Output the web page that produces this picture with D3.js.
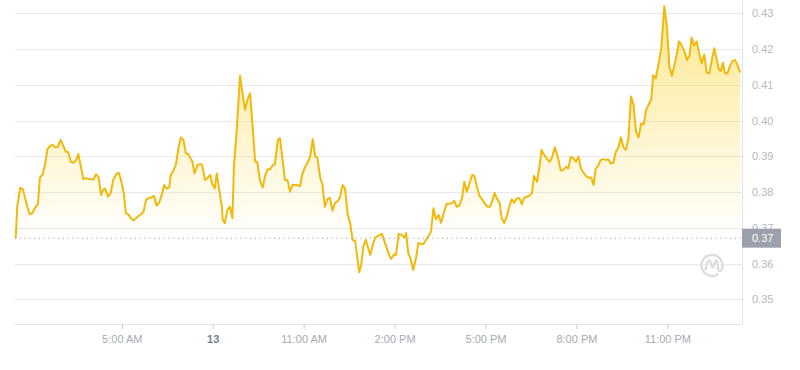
<!DOCTYPE html>
<html lang="en">

<head>
    <meta charset="UTF-8">
    <title>Price chart</title>
    <style>
        body {
            margin: 0;
            background: #fff;
            font-family: "Liberation Sans", Arial, sans-serif;
        }

        .x-axis text {
            font-size: 11px;
            fill: #a6aab2;
        }

        .x-axis text.day {
            fill: #7c8089;
            font-weight: bold;
        }

        .y-axis text {
            font-size: 11px;
            fill: #b5b9c1;
        }
    </style>
</head>

<body>
    <svg id="chart"></svg>
</body>
<script src="https://d3js.org/d3.v7.min.js"></script>
<script>
    // 5 minute candles, minutes counted from the first one
    const startTime = new Date(Date.UTC(2024, 2, 12, 1, 30));

    const minutes = [
        0, 3, 9, 14, 18, 23, 28, 33, 37, 44,
        48, 53, 58, 63, 68, 73, 78, 83, 89, 94,
        99, 104, 109, 114, 119, 124, 129, 134, 139, 145,
        150, 154, 159, 164, 169, 173, 177, 183, 188, 193,
        199, 204, 208, 214, 218, 224, 228, 233, 238, 243,
        248, 253, 258, 263, 269, 274, 279, 284, 289, 294,
        298, 304, 307, 312, 317, 322, 327, 332, 337, 342,
        347, 350, 354, 360, 365, 369, 375, 379, 385, 389,
        394, 398, 403, 408, 410, 414, 419, 424, 429, 432,
        438, 444, 449, 454, 459, 464, 468, 474, 478, 484,
        489, 494, 499, 504, 509, 513, 519, 523, 529, 533,
        538, 543, 548, 553, 558, 563, 567, 573, 577, 583,
        588, 593, 597, 603, 607, 612, 617, 622, 627, 632,
        637, 642, 647, 652, 657, 662, 667, 672, 676, 680,
        684, 688, 693, 697, 702, 706, 711, 718, 725, 731,
        738, 743, 749, 753, 758, 764, 769, 773, 777, 782,
        787, 793, 797, 802, 807, 812, 817, 822, 827, 832,
        837, 842, 848, 853, 859, 863, 868, 873, 878, 884,
        888, 893, 898, 904, 908, 913, 918, 924, 929, 934,
        939, 944, 948, 952, 958, 962, 967, 972, 977, 982,
        987, 992, 997, 1002, 1006, 1012, 1016, 1022, 1026, 1032,
        1037, 1041, 1046, 1051, 1057, 1061, 1067, 1072, 1079, 1084,
        1090, 1094, 1099, 1104, 1109, 1114, 1119, 1124, 1129, 1134,
        1139, 1144, 1148, 1154, 1158, 1163, 1169, 1173, 1178, 1183,
        1188, 1193, 1198, 1203, 1208, 1213, 1218, 1223, 1228, 1233,
        1238, 1243, 1248, 1253, 1258, 1262, 1267, 1272, 1278, 1284,
        1289, 1294, 1299, 1304, 1309, 1313, 1317, 1323, 1329, 1334,
        1338, 1343, 1348, 1353, 1358, 1363, 1368, 1373, 1378, 1383,
        1388, 1392, 1396, 1400, 1404, 1409, 1414, 1419, 1424, 1429,
        1434
    ];

    const prices = [
        0.3671, 0.3759, 0.3812, 0.3808, 0.3787, 0.3759, 0.3738, 0.3741, 0.3753, 0.3767,
        0.3841, 0.3848, 0.3876, 0.3920, 0.3929, 0.3932, 0.3925, 0.3925, 0.3946, 0.3930,
        0.3913, 0.3912, 0.3885, 0.3882, 0.3888, 0.3906, 0.3871, 0.3836, 0.3839, 0.3836,
        0.3836, 0.3835, 0.3850, 0.3841, 0.3792, 0.3806, 0.3810, 0.3787, 0.3797, 0.3834,
        0.3850, 0.3854, 0.3836, 0.3797, 0.3741, 0.3736, 0.3727, 0.3720, 0.3727, 0.3733,
        0.3738, 0.3745, 0.3778, 0.3783, 0.3785, 0.3789, 0.3762, 0.3770, 0.3792, 0.3820,
        0.3810, 0.3813, 0.3848, 0.3859, 0.3876, 0.3922, 0.3953, 0.3946, 0.3908, 0.3906,
        0.3892, 0.3884, 0.3852, 0.3876, 0.3878, 0.3876, 0.3834, 0.3838, 0.3848, 0.3824,
        0.3810, 0.3852, 0.3806, 0.3759, 0.3722, 0.3713, 0.3750, 0.3759, 0.3727, 0.3871,
        0.3983, 0.4125, 0.4076, 0.4030, 0.4059, 0.4076, 0.4002, 0.3885, 0.3885, 0.3829,
        0.3813, 0.3848, 0.3864, 0.3864, 0.3876, 0.3878, 0.3946, 0.3950, 0.3884, 0.3834,
        0.3834, 0.3801, 0.3820, 0.3820, 0.3819, 0.3817, 0.3848, 0.3871, 0.3880, 0.3899,
        0.3948, 0.3899, 0.3897, 0.3838, 0.3823, 0.3759, 0.3780, 0.3784, 0.3748, 0.3770,
        0.3774, 0.3785, 0.3820, 0.3809, 0.3739, 0.3713, 0.3666, 0.3663, 0.3619, 0.3576,
        0.3596, 0.3647, 0.3666, 0.3647, 0.3624, 0.3647, 0.3671, 0.3678, 0.3683, 0.3658,
        0.3629, 0.3613, 0.3626, 0.3624, 0.3683, 0.3680, 0.3673, 0.3685, 0.3630, 0.3612,
        0.3582, 0.3619, 0.3658, 0.3655, 0.3654, 0.3666, 0.3677, 0.3689, 0.3755, 0.3724,
        0.3736, 0.3714, 0.3745, 0.3767, 0.3767, 0.3769, 0.3776, 0.3759, 0.3762, 0.3786,
        0.3829, 0.3801, 0.3824, 0.3848, 0.3845, 0.3815, 0.3789, 0.3778, 0.3767, 0.3759,
        0.3759, 0.3778, 0.3798, 0.3783, 0.3770, 0.3727, 0.3713, 0.3731, 0.3759, 0.3780,
        0.3770, 0.3783, 0.3783, 0.3766, 0.3783, 0.3787, 0.3789, 0.3797, 0.3845, 0.3829,
        0.3873, 0.3918, 0.3904, 0.3894, 0.3885, 0.3894, 0.3925, 0.3904, 0.3860, 0.3862,
        0.3871, 0.3866, 0.3899, 0.3894, 0.3885, 0.3899, 0.3866, 0.3854, 0.3845, 0.3840,
        0.3841, 0.3820, 0.3864, 0.3876, 0.3890, 0.3892, 0.3890, 0.3892, 0.3880, 0.3882,
        0.3913, 0.3924, 0.3953, 0.3925, 0.3918, 0.3951, 0.4067, 0.4044, 0.3969, 0.3953,
        0.3992, 0.3989, 0.4030, 0.4045, 0.4059, 0.4127, 0.4118, 0.4155, 0.4202, 0.4320,
        0.4263, 0.4151, 0.4125, 0.4155, 0.4188, 0.4221, 0.4213, 0.4197, 0.4169, 0.4183,
        0.4232, 0.4209, 0.4221, 0.4188, 0.4160, 0.4185, 0.4134, 0.4132, 0.4169, 0.4202,
        0.4169, 0.4143, 0.4139, 0.4162, 0.4132, 0.4132, 0.4153, 0.4167, 0.4169, 0.4155,
        0.4134
    ];

    const yTicks = [0.35, 0.36, 0.37, 0.38, 0.39, 0.40, 0.41, 0.42, 0.43];

    // hour of each x tick (same day as startTime) and the text shown for it
    const xTickHours = [5, 8, 11, 14, 17, 20, 23];
    const xTickLabels = ["5:00 AM", "13", "11:00 AM", "2:00 PM", "5:00 PM", "8:00 PM", "11:00 PM"];

    const width = 800;
    const height = 370;
    const left = 15;
    const right = 742;
    const bottom = 324;

    const data = minutes.map((m, i) => ({
        date: new Date(startTime.getTime() + m * 60000),
        price: prices[i]
    }));

    const svg = d3.select("#chart")
        .attr("width", width)
        .attr("height", height);

    const x = d3.scaleUtc()
        .domain(d3.extent(data, d => d.date))
        .range([15.7, 740.1]);

    const y = d3.scaleLinear()
        .domain([0.35, 0.43])
        .range([299.3, 13.3]);

    const firstPrice = prices[0];

    // grid
    svg.append("g")
        .selectAll("line")
        .data(yTicks)
        .join("line")
        .attr("x1", left)
        .attr("x2", right)
        .attr("y1", d => Math.round(y(d)) + 0.5)
        .attr("y2", d => Math.round(y(d)) + 0.5)
        .attr("stroke", "#e8e8ed")
        .attr("stroke-width", 1);

    // fill gradient
    const defs = svg.append("defs");
    const grad = defs.append("linearGradient")
        .attr("id", "fill-grad")
        .attr("gradientUnits", "userSpaceOnUse")
        .attr("x1", 0).attr("x2", 0)
        .attr("y1", y(0.432)).attr("y2", y(firstPrice));
    grad.append("stop").attr("offset", 0).attr("stop-color", "#fcd535").attr("stop-opacity", 0.55);
    grad.append("stop").attr("offset", 1).attr("stop-color", "#fcd535").attr("stop-opacity", 0);

    const area = d3.area()
        .x(d => x(d.date))
        .y0(y(firstPrice))
        .y1(d => y(d.price));

    const line = d3.line()
        .x(d => x(d.date))
        .y(d => y(d.price));

    svg.append("path")
        .datum(data)
        .attr("d", area)
        .attr("fill", "url(#fill-grad)");

    // reference line at the opening price
    svg.append("line")
        .attr("x1", left)
        .attr("x2", right)
        .attr("y1", y(firstPrice))
        .attr("y2", y(firstPrice))
        .attr("stroke", "#8f8f8f")
        .attr("stroke-width", 1)
        .attr("stroke-dasharray", "1,3.8");

    svg.append("path")
        .datum(data)
        .attr("d", line)
        .attr("fill", "none")
        .attr("stroke", "#f0b90b")
        .attr("stroke-width", 2)
        .attr("stroke-linejoin", "round");

    // axis frame
    svg.append("line")
        .attr("x1", left).attr("x2", right)
        .attr("y1", bottom + 0.5).attr("y2", bottom + 0.5)
        .attr("stroke", "#e3e4e8");
    svg.append("line")
        .attr("x1", right + 0.5).attr("x2", right + 0.5)
        .attr("y1", 0).attr("y2", bottom)
        .attr("stroke", "#e3e4e8");

    const tickDates = xTickHours.map(h => new Date(Date.UTC(2024, 2, 12, h, 0)));

    const xAxis = d3.axisBottom(x)
        .tickValues(tickDates)
        .tickFormat((d, i) => xTickLabels[i])
        .tickSize(5)
        .tickPadding(6);

    const gx = svg.append("g")
        .attr("class", "x-axis")
        .attr("transform", `translate(0,${bottom})`)
        .call(xAxis);
    gx.select(".domain").remove();
    gx.selectAll(".tick line").attr("stroke", "#c9ccd2");
    gx.selectAll(".tick text")
        .attr("font-family", null)
        .attr("font-size", null)
        .classed("day", (d, i) => xTickLabels[i] === "13");

    const yAxis = d3.axisRight(y)
        .tickValues(yTicks)
        .tickFormat(d3.format(".2f"))
        .tickSize(0)
        .tickPadding(10);

    const gy = svg.append("g")
        .attr("class", "y-axis")
        .attr("transform", `translate(${right},0)`)
        .call(yAxis);
    gy.select(".domain").remove();
    gy.selectAll(".tick text")
        .attr("font-family", null)
        .attr("font-size", null);

    // badge for the opening price
    const badge = svg.append("g")
        .attr("transform", `translate(${right},${y(firstPrice)})`);
    badge.append("rect")
        .attr("x", 0)
        .attr("y", -9.5)
        .attr("width", 39)
        .attr("height", 19)
        .attr("fill", "#9ba0aa");
    badge.append("text")
        .attr("x", 10)
        .attr("dy", "0.35em")
        .attr("fill", "#fff")
        .attr("font-size", 11)
        .text(d3.format(".2f")(firstPrice));

    // watermark
    const logo = svg.append("g")
        .attr("transform", "translate(712,265.5)")
        .attr("fill", "none")
        .attr("stroke", "#dcdde1")
        .attr("stroke-width", 2.4)
        .attr("stroke-linecap", "round");
    logo.append("path")
        .attr("d", d3.arc()({ innerRadius: 10.5, outerRadius: 10.5, startAngle: Math.PI * 0.78, endAngle: Math.PI * 2.62 }));
    logo.append("path")
        .attr("d", "M-6.5,4 C-5.5,-1 -4,-5 -2.6,-5 C-1,-5 -0.6,2 0.6,2 C1.8,2 2.4,-5 4,-5 C5.8,-5 5.8,2 6.2,4 C6.6,6 8.5,5.5 9.5,4.5");
</script>

</html>
